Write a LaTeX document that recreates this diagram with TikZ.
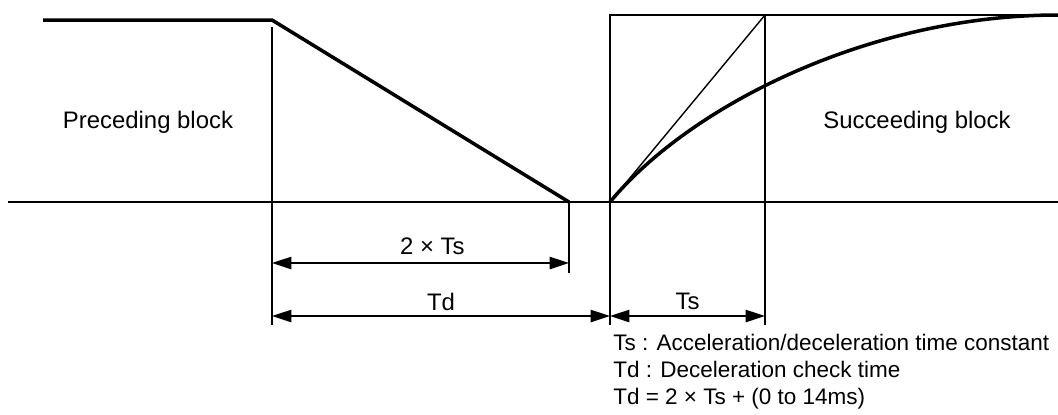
\documentclass[tikz,border=0pt]{standalone}
\usepackage{fontspec}
\setmainfont{Liberation Sans}
\usetikzlibrary{positioning, arrows.meta}

\begin{document}
\begin{tikzpicture}[
    x=0.02cm, y=-0.02cm,
    thin line/.style={line width=0.8pt},
    speed/.style={line width=2pt},
    dim/.style={{Triangle[length=11pt, width=7pt]}-{Triangle[length=11pt, width=7pt]}, line width=0.8pt},
    label/.style={font=\fontsize{13.6}{16}\selectfont, inner sep=1pt},
    legend/.style={font=\fontsize{12.8}{15}\selectfont, anchor=base west, inner sep=0pt}
]
\useasboundingbox (0,0) rectangle (1058,414);

% Key points
\coordinate (start) at (43,20);
\coordinate (decel) at (272,20);
\coordinate (stop) at (569,202);
\coordinate (accel) at (610,202);
\coordinate (boxL) at (610,15);
\coordinate (tsTop) at (765,15);
\coordinate (boxR) at (1058,15);
\coordinate (axisL) at (8,202);
\coordinate (axisR) at (1058,202);

% Time axis
\draw[thin line] (axisL) -- (axisR);

% Preceding block: constant speed, then linear deceleration
\draw[speed] (start) -- (decel) -- (stop);

% Succeeding block: box and time constant line
\draw[thin line] (accel) -- (boxL) -- (boxR);
\draw[thin line] (accel) -- (tsTop);
\draw[speed] (accel) .. controls (690,105.5) and (870,15) .. (boxR);

% Extension lines
\coordinate (decelLow) at (272,325);
\coordinate (stopLow) at (569,273);
\coordinate (accelLow) at (610,325);
\coordinate (tsLow) at (765,325);
\draw[thin line] (272,27) -- (decelLow);
\draw[thin line] (stop) -- (stopLow);
\draw[thin line] (accel) -- (accelLow);
\draw[thin line] (tsTop) -- (tsLow);

% Dimension arrows
\coordinate (twoTsL) at (272,263);
\coordinate (twoTsR) at (569,263);
\coordinate (tdL) at (272,316);
\coordinate (tdR) at (610,316);
\coordinate (tsL) at (610,316);
\coordinate (tsR) at (765,316);
\draw[dim] (twoTsL) -- node[label, above=3.5pt, pos=0.54] (twoTs) {2 × Ts} (twoTsR);
\draw[dim] (tdL) -- node[label, above=1.8pt] (td) {Td} (tdR);
\draw[dim] (tsL) -- node[label, above=2.4pt] (ts) {Ts} (tsR);

% Block labels
\node[label] (preceding) at (148,122) {Preceding block};
\node[label] (succeeding) at (917,122) {Succeeding block};

% Legend
\node[legend] (legendTs) at (613,350) {Ts : Acceleration/deceleration time constant};
\node[legend] (legendTd) at (613,377) {Td : Deceleration check time};
\node[legend] (legendEq) at (613,404) {Td = 2 × Ts + (0 to 14ms)};

\end{tikzpicture}
\end{document}
